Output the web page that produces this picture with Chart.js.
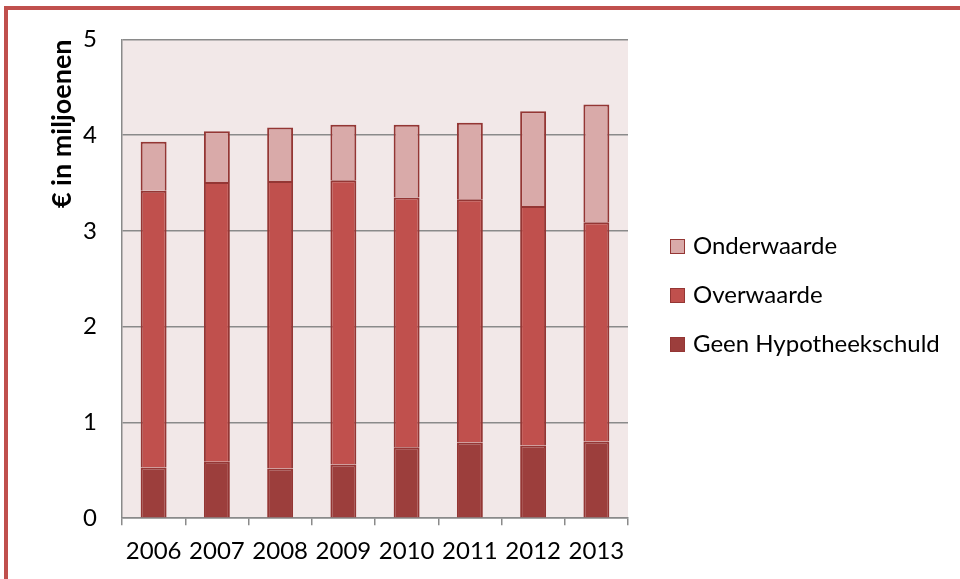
<!DOCTYPE html>
<html>
<head>
<meta charset="utf-8">
<script src="https://cdn.jsdelivr.net/npm/chart.js@4/dist/chart.umd.min.js"></script>
<style>
	html, body { margin: 0; padding: 0; background: #fff; overflow: hidden; }
	.frame {
		position: absolute; left: 4px; top: 6px; width: 1100px; height: 800px;
		border-left: 4px solid #c0504d; border-top: 4px solid #c0504d;
	}
	#wrap { position: absolute; left: 0; top: 0; width: 960px; height: 579px; }
	#legend {
		position: absolute; left: 670px; top: 220px;
		font-family: Lato, sans-serif; font-size: 24px; color: #000;
	}
	#legend div { height: 49px; line-height: 49px; white-space: nowrap; }
	#legend span.box {
		display: inline-block; width: 13px; height: 13px; margin-right: 8px;
		border: 1px solid #943634; vertical-align: middle; position: relative; top: -1px;
	}
</style>
</head>
<body>
<div class="frame"></div>
<div id="wrap"><canvas id="chart"></canvas></div>
<div id="legend"></div>
<script>
const years = ['2006', '2007', '2008', '2009', '2010', '2011', '2012', '2013'];
// waarde in miljoenen euro, per jaar
const geenHypotheekschuld = [0.53, 0.59, 0.52, 0.56, 0.74, 0.79, 0.76, 0.80];
const overwaarde = [2.89, 2.92, 3.00, 2.97, 2.61, 2.54, 2.50, 2.29];
const onderwaarde = [0.51, 0.53, 0.56, 0.58, 0.76, 0.80, 0.99, 1.23];
const yMin = 0, yMax = 5, yStep = 1;

const font = 'Lato';

// roze achtergrond achter het plotvlak
const plotBg = {
	id: 'plotBg',
	beforeDraw(chart) {
		const {ctx, chartArea: a} = chart;
		ctx.save();
		ctx.fillStyle = '#f2e8e8';
		ctx.fillRect(a.left, a.top, a.right - a.left, a.bottom - a.top);
		ctx.restore();
	}
};

function dataset(label, data, color) {
	return {
		label: label,
		data: data,
		backgroundColor: color,
		borderColor: '#943634',
		borderWidth: 2,
		barPercentage: 0.41,
		categoryPercentage: 1
	};
}

let chart = new Chart(
	document.getElementById('chart'),
	{
		type: 'bar',
		data: {
			labels: years,
			datasets: [
				dataset('Geen Hypotheekschuld', geenHypotheekschuld, '#9c3e3c'),
				dataset('Overwaarde', overwaarde, '#c0504d'),
				dataset('Onderwaarde', onderwaarde, '#d9aaa9')
			]
		},
		options: {
			responsive: true,
			maintainAspectRatio: false,
			animation: false,
			layout: { padding: { left: 0, top: 37, right: 332, bottom: 1 } },
			plugins: {
				tooltip: { enabled: false },
				legend: { display: false }
			},
			scales: {
				x: {
					stacked: true,
					border: { color: '#8a8a8a', width: 1.5 },
					grid: { drawOnChartArea: false, drawTicks: true, tickLength: 7, color: '#8a8a8a', lineWidth: 1.5 },
					ticks: { color: '#000', font: { family: font, size: 24 }, padding: 12, maxRotation: 0 }
				},
				y: {
					stacked: true,
					min: yMin,
					max: yMax,
					afterFit(scale) { scale.width = 122; },
					border: { color: '#8a8a8a', width: 1.5 },
					grid: { color: '#8a8a8a', lineWidth: 1.5, drawTicks: false },
					ticks: { stepSize: yStep, color: '#000', font: { family: font, size: 24 }, padding: 25 },
					title: {
						display: true,
						text: '€ in miljoenen',
						align: 'end',
						color: '#000',
						font: { family: font, size: 27, weight: 'bold' },
						padding: { top: 46, bottom: 0 }
					}
				}
			}
		},
		plugins: [plotBg]
	}
);

// legenda in omgekeerde volgorde (bovenste laag eerst)
const legend = document.getElementById('legend');
chart.data.datasets.slice().reverse().forEach(ds => {
	const row = document.createElement('div');
	row.innerHTML = `<span class="box" style="background:${ds.backgroundColor}"></span>${ds.label}`;
	legend.append(row);
});
</script>
</body>
</html>
